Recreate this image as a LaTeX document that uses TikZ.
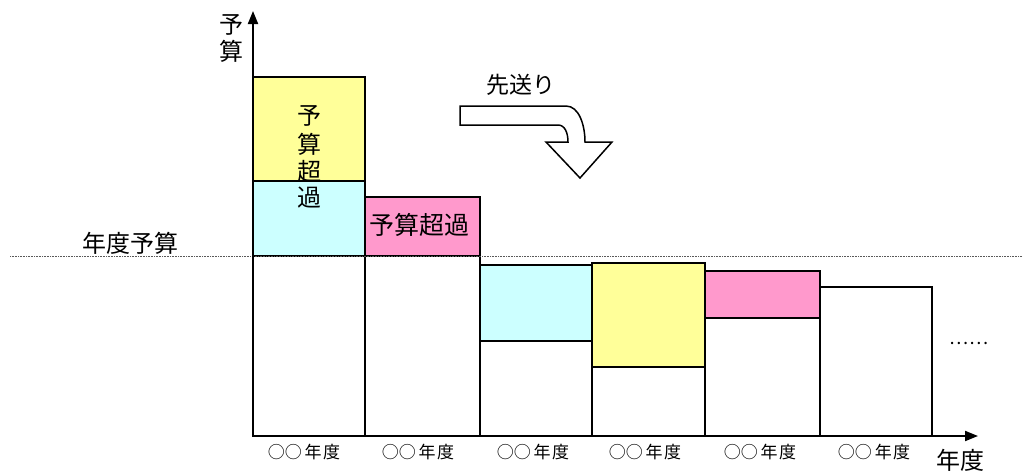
\documentclass[tikz,border=0pt]{standalone}
\usepackage{fontspec}
\setmainfont{Noto Sans CJK JP}
\usetikzlibrary{arrows.meta}
\definecolor{ylw}{HTML}{FFFF99}
\definecolor{cyn}{HTML}{CCFFFF}
\definecolor{pnk}{HTML}{FF99CC}
\tikzset{
  barline/.style={draw=black,line width=2pt},
  axisline/.style={line width=2pt,-{Triangle[length=13pt,width=10pt]}},
  ylab/.style={font=\fontsize{17}{17}\selectfont,inner sep=0pt},
  big/.style={font=\fontsize{24}{24}\selectfont,inner sep=0pt},
}
\begin{document}
\begin{tikzpicture}[x=1pt,y=-1pt]
\useasboundingbox (0,0) rectangle (1023,472);
% bar 1
\path[barline,fill=ylw] (253,77) rectangle (365,181);
\path[barline,fill=cyn] (253,181) rectangle (365,256);
\path[barline] (253,256) rectangle (365,436);
% bar 2
\path[barline,fill=pnk] (365,197) rectangle (480,256);
\path[barline] (365,256) rectangle (480,436);
% bar 3
\path[barline,fill=cyn] (480,265) rectangle (592,341);
\path[barline] (480,341) rectangle (592,436);
% bar 4
\path[barline,fill=ylw] (592,263) rectangle (705,367);
\path[barline] (592,367) rectangle (705,436);
% bar 5
\path[barline,fill=pnk] (705,271) rectangle (820,318);
\path[barline] (705,318) rectangle (820,436);
% bar 6
\draw[line width=2pt] (820,436) -- (820,287) -- (932,287) -- (932,436);
% budget line
\coordinate (bl) at (10,256);
\coordinate (br) at (1023,256);
\draw[gray!70!black,line width=0.8pt,dash pattern=on 1pt off 0.6pt] (bl) -- (br);
% axes
\coordinate (O) at (253,436);
\coordinate (ytip) at (253,11);
\coordinate (xtip) at (978,436);
\draw[axisline] (O) -- (ytip);
\draw[axisline] (O) -- (xtip);
% labels
\node[big] (yl1) at (231,25) {予};
\node[big] (yl2) at (231,51) {算};
\node[big] (xl) at (960,460) {年度};
\node[font=\fontsize{24}{24}\selectfont,inner sep=0pt] (budget) at (130,243) {年度予算};
\node[big] (v1) at (309,116) {予};
\node[big] (v2) at (309,144) {算};
\node[big] (v3) at (309,171) {超};
\node[big] (v4) at (309,198) {過};
\node[font=\fontsize{25}{25}\selectfont,inner sep=0pt] (over2) at (419,225) {予算超過};
\node[font=\fontsize{23}{23}\selectfont,inner sep=0pt] (defer) at (521,85) {先送り};
\node[font=\fontsize{18}{18}\selectfont,inner sep=0pt] (dots) at (969,343) {……};
\foreach \i/\x in {1/304,2/418,3/533,4/645,5/760,6/874}{
  \node[ylab] (yr\i) at (\x,452) {○○\hspace{3pt}年\hspace{1.5pt}度};
}
% defer arrow
\draw[line width=1.5pt,fill=white] (460,106) -- (566,106)
  .. controls (579,106) and (585,125) .. (585,142) -- (612,142) -- (580,178) -- (546,142) -- (568,142)
  .. controls (568,133) and (565,125) .. (558,125) -- (460,125) -- cycle;
\end{tikzpicture}
\end{document}
